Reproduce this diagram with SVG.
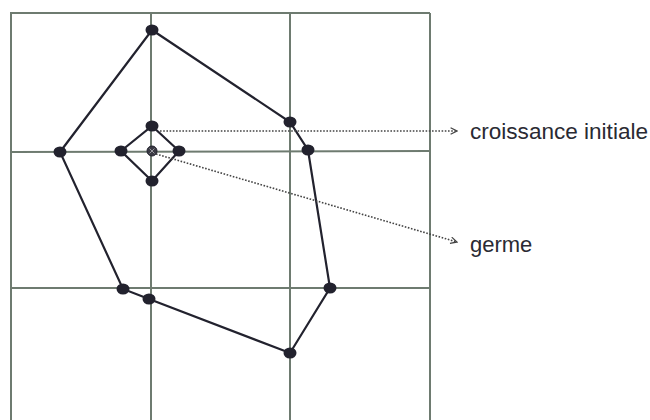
<svg xmlns="http://www.w3.org/2000/svg" width="650" height="420" viewBox="0 0 650 420">
<style>
.grid{stroke:#6e7b70;stroke-width:2;fill:none}
.edge{stroke:#22222e;stroke-width:2.2;fill:none}
.dot{fill:#22222e}
.lead{stroke:#444;stroke-width:1.6;stroke-dasharray:1.6 1.6;fill:none}
.lbl{font-family:"Liberation Sans",Arial,sans-serif;font-size:22px;fill:#2a2a33}
</style>
<defs>
<marker id="chev" viewBox="0 0 10 10" refX="9" refY="5" markerWidth="8" markerHeight="8" markerUnits="userSpaceOnUse" orient="auto">
<path d="M1,1 L9,5 L1,9" fill="none" stroke="#444" stroke-width="1.6"/>
</marker>
</defs>
<rect width="650" height="420" fill="#fff"/>
<g id="grid">
<line class="grid" x1="10" y1="13" x2="430" y2="13"/>
<line class="grid" x1="10" y1="152" x2="430" y2="151"/>
<line class="grid" x1="10" y1="288" x2="430" y2="288"/>
<line class="grid" x1="11" y1="13" x2="11" y2="420"/>
<line class="grid" x1="151" y1="13" x2="151" y2="420"/>
<line class="grid" x1="290" y1="13" x2="290" y2="420"/>
<line class="grid" x1="430" y1="13" x2="430" y2="420"/>
</g>
<g id="connectors">
<polygon class="edge" points="152,30 290,122 308,150 330,288 290,353 149,299 123,289 60,152"/>
<polygon class="edge" points="152,126 179,151 152,181 121,151"/>
<line class="lead" x1="160" y1="131" x2="457" y2="131" marker-end="url(#chev)"/>
<line class="lead" x1="156" y1="154" x2="457" y2="242" marker-end="url(#chev)"/>
</g>
<g id="outer-nodes">
<ellipse class="dot" cx="152" cy="30" rx="6.5" ry="5.5"/>
<ellipse class="dot" cx="290" cy="122" rx="6.5" ry="5.5"/>
<ellipse class="dot" cx="308" cy="150" rx="6.5" ry="5.5"/>
<ellipse class="dot" cx="330" cy="288" rx="6.5" ry="5.5"/>
<ellipse class="dot" cx="290" cy="353" rx="6.5" ry="5.5"/>
<ellipse class="dot" cx="149" cy="299" rx="6.5" ry="5.5"/>
<ellipse class="dot" cx="123" cy="289" rx="6.5" ry="5.5"/>
<ellipse class="dot" cx="60" cy="152" rx="6.5" ry="5.5"/>
</g>
<g id="inner-nodes">
<ellipse class="dot" cx="152" cy="126" rx="6.5" ry="5.5"/>
<ellipse class="dot" cx="179" cy="151" rx="6.5" ry="5.5"/>
<ellipse class="dot" cx="152" cy="181" rx="6.5" ry="5.5"/>
<ellipse class="dot" cx="121" cy="151" rx="6.5" ry="5.5"/>
</g>
<g id="germe-node">
<circle cx="152" cy="151" r="5" fill="#3a3a44" stroke="#22222e" stroke-width="1"/>
<path d="M149.5,148.5 L154.5,153.5 M154.5,148.5 L149.5,153.5" stroke="#9a9aa0" stroke-width="1"/>
</g>
<g id="label-croissance">
<text class="lbl" x="470" y="139" textLength="178" lengthAdjust="spacingAndGlyphs">croissance initiale</text>
</g>
<g id="label-germe">
<text class="lbl" x="470" y="252">germe</text>
</g>
</svg>
